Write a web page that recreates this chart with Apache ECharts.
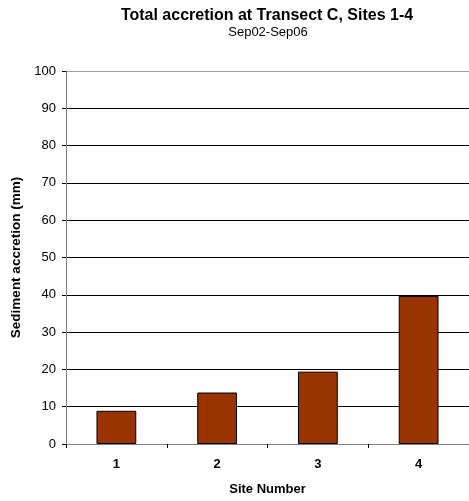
<!DOCTYPE html>
<html><head><meta charset="utf-8">
<script src="https://cdn.jsdelivr.net/npm/echarts@6/dist/echarts.min.js"></script>
<style>html,body{margin:0;padding:0;background:#fff}#c{width:469px;height:501px}</style>
</head><body><div id="c"></div>
<script>
var categories = ['1', '2', '3', '4'];
var accretion = [8.9, 13.8, 19.4, 39.7];
var yTicks = [0, 10, 20, 30, 40, 50, 60, 70, 80, 90, 100];

var chart = echarts.init(document.getElementById('c'), null, {renderer: 'canvas'});
var FONT = 'Liberation Sans, Arial, sans-serif';
var gridColors = yTicks.map(function (v, i) { return i === yTicks.length - 1 ? '#a0a0a0' : '#000'; });
chart.setOption({
  animation: false,
  backgroundColor: '#fff',
  title: [
    {text: 'Total accretion at Transect C, Sites 1-4', left: 262, top: 3, textAlign: 'center',
     textStyle: {fontFamily: FONT, fontSize: 16, fontWeight: 'bold', color: '#000'}},
    {text: 'Sep02-Sep06', left: 263, top: 21, textAlign: 'center',
     textStyle: {fontFamily: FONT, fontSize: 13, fontWeight: 'normal', color: '#000'}}
  ],
  grid: {left: 66, right: 0, top: 71, bottom: 55, containLabel: false},
  xAxis: {
    type: 'category', data: categories,
    name: 'Site Number', nameLocation: 'middle', nameGap: 39,
    nameTextStyle: {fontFamily: FONT, fontSize: 13, fontWeight: 'bold', color: '#000'},
    axisLine: {lineStyle: {color: '#808080', width: 1}},
    axisTick: {show: true, alignWithLabel: false, length: 4, lineStyle: {color: '#000'}},
    axisLabel: {fontFamily: FONT, fontSize: 13, fontWeight: 'bold', color: '#000', margin: 14},
    splitLine: {show: false}
  },
  yAxis: {
    type: 'value', min: yTicks[0], max: yTicks[yTicks.length - 1], interval: 10,
    name: 'Sediment accretion (mm)', nameLocation: 'middle', nameGap: 39,
    nameTextStyle: {fontFamily: FONT, fontSize: 13.5, fontWeight: 'bold', color: '#000'},
    axisLine: {show: true, lineStyle: {color: '#808080', width: 1}},
    axisTick: {show: true, inside: false, length: 4, lineStyle: {color: '#000'}},
    axisLabel: {fontFamily: FONT, fontSize: 13, color: '#000', margin: 10},
    splitLine: {show: true, lineStyle: {color: gridColors, width: 1}}
  },
  series: [{
    type: 'bar', data: accretion, barWidth: '39.5%',
    itemStyle: {color: '#993300', borderColor: '#000', borderWidth: 1}
  }]
});
</script></body></html>
